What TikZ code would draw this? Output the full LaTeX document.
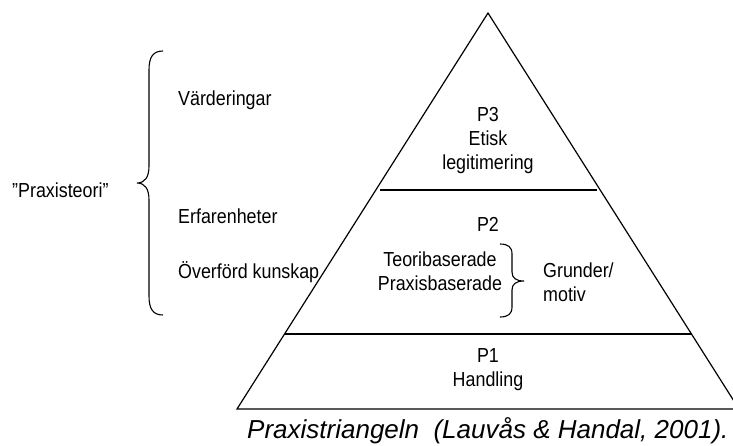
\documentclass[tikz,border=0pt]{standalone}
\usepackage{fontspec}
\setmainfont{Liberation Sans}
\newfontfamily\bodyfont[FakeStretch=0.88]{Liberation Sans}
\begin{document}
\begin{tikzpicture}[x=1pt,y=-1pt,
  lbl/.style={inner sep=0pt,font=\bodyfont\fontsize{20.3}{24}\selectfont},
  ctr/.style={lbl,align=center},
  line/.style={line width=1.2pt,line join=miter},
  brace/.style={line width=1.1pt}]
\useasboundingbox (0,0) rectangle (733,445);
\clip (0,0) rectangle (733,445);
% triangle
\coordinate (apex) at (488,13);
\coordinate (bl) at (237,409);
\coordinate (br) at (739,409);
\draw[line] (bl) -- (apex) -- (br) -- cycle;
\coordinate (l3a) at (380,190);
\coordinate (l3b) at (597,190);
\coordinate (l2a) at (285,334);
\coordinate (l2b) at (692,334);
\draw[line] (l3a) -- (l3b);
\draw[line] (l2a) -- (l2b);
% levels
\node[ctr] (p3) at (488,141) {P3\\Etisk\\legitimering};
\node[ctr] (p2) at (488,224) {P2};
\node[ctr] (base) at (440,271) {Teoribaserade\\Praxisbaserade};
\node[lbl,align=left,anchor=west] (grund) at (543,282) {Grunder/\\motiv};
\node[ctr] (p1) at (488,370) {P1\\Handling};
% small brace
\draw[brace] (500,244) .. controls (508,244) and (512,247) .. (512,254)
  -- (512,272) .. controls (512,278) and (516,281) .. (524,281)
  .. controls (516,281) and (512,284) .. (512,290)
  -- (512,307) .. controls (512,314) and (508,317) .. (500,317);
% left side
\node[lbl,anchor=west] (vard) at (178,100) {Värderingar};
\node[lbl,anchor=west] (erf) at (178,216) {Erfarenheter};
\node[lbl,anchor=west] (over) at (178,272) {Överförd kunskap};
\node[lbl,anchor=west] (prax) at (12,190) {”Praxisteori”};
\draw[brace] (163,51) .. controls (153,51) and (149,57) .. (149,70)
  -- (149,166) .. controls (149,177) and (145,183) .. (137,183)
  .. controls (145,183) and (149,189) .. (149,200)
  -- (149,296) .. controls (149,309) and (153,315) .. (163,315);
% caption
\node[inner sep=0pt,anchor=west,font=\fontsize{26}{30}\selectfont\itshape] (cap) at (247,431) {Praxistriangeln\ \ (Lauvås \& Handal, 2001).};
\end{tikzpicture}
\end{document}
